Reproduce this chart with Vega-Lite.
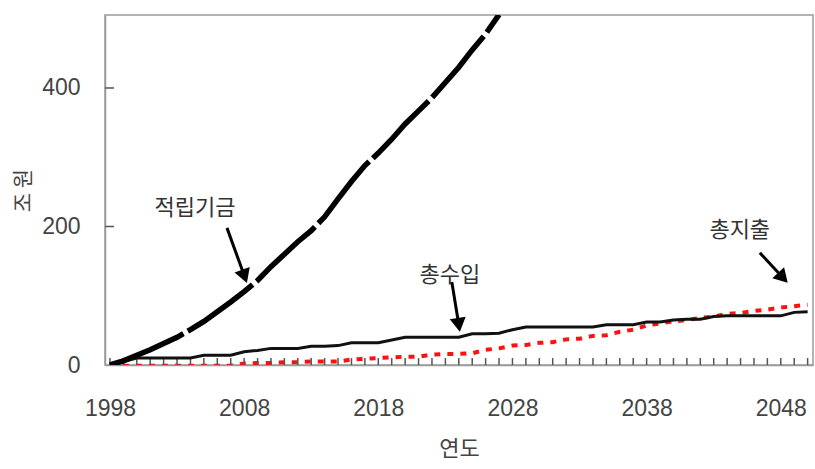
{
  "$schema": "https://vega.github.io/schema/vega-lite/v6.json",
  "autosize": "none",
  "width": 708,
  "height": 350,
  "padding": {"left": 105, "top": 15, "right": 2, "bottom": 104},
  "background": "white",
  "config": {
    "view": {"stroke": "#9a9a9a", "strokeWidth": 1.5},
    "font": "Liberation Sans, Noto Sans CJK KR",
    "axis": {"labelOverlap": false}
  },
  "datasets": {
    "series": [
      {"year": 1998, "s": "적립기금", "v": 0}, {"year": 1999, "s": "적립기금", "v": 6}, {"year": 2000, "s": "적립기금", "v": 14},
      {"year": 2001, "s": "적립기금", "v": 22}, {"year": 2002, "s": "적립기금", "v": 31}, {"year": 2003, "s": "적립기금", "v": 40},
      {"year": 2004, "s": "적립기금", "v": 51}, {"year": 2005, "s": "적립기금", "v": 63}, {"year": 2006, "s": "적립기금", "v": 77},
      {"year": 2007, "s": "적립기금", "v": 91}, {"year": 2008, "s": "적립기금", "v": 106}, {"year": 2009, "s": "적립기금", "v": 122},
      {"year": 2010, "s": "적립기금", "v": 142}, {"year": 2011, "s": "적립기금", "v": 160}, {"year": 2012, "s": "적립기금", "v": 178},
      {"year": 2013, "s": "적립기금", "v": 194}, {"year": 2014, "s": "적립기금", "v": 214}, {"year": 2015, "s": "적립기금", "v": 240},
      {"year": 2016, "s": "적립기금", "v": 265}, {"year": 2017, "s": "적립기금", "v": 288}, {"year": 2018, "s": "적립기금", "v": 306},
      {"year": 2019, "s": "적립기금", "v": 326}, {"year": 2020, "s": "적립기금", "v": 348}, {"year": 2021, "s": "적립기금", "v": 367},
      {"year": 2022, "s": "적립기금", "v": 386}, {"year": 2023, "s": "적립기금", "v": 408}, {"year": 2024, "s": "적립기금", "v": 430},
      {"year": 2025, "s": "적립기금", "v": 455}, {"year": 2026, "s": "적립기금", "v": 478}, {"year": 2027, "s": "적립기금", "v": 506},

      {"year": 1998, "s": "총수입", "v": 0}, {"year": 1999, "s": "총수입", "v": 5}, {"year": 2000, "s": "총수입", "v": 10},
      {"year": 2001, "s": "총수입", "v": 10}, {"year": 2002, "s": "총수입", "v": 10}, {"year": 2003, "s": "총수입", "v": 10},
      {"year": 2004, "s": "총수입", "v": 10}, {"year": 2005, "s": "총수입", "v": 14}, {"year": 2006, "s": "총수입", "v": 14},
      {"year": 2007, "s": "총수입", "v": 14}, {"year": 2008, "s": "총수입", "v": 19}, {"year": 2009, "s": "총수입", "v": 21},
      {"year": 2010, "s": "총수입", "v": 24}, {"year": 2011, "s": "총수입", "v": 24}, {"year": 2012, "s": "총수입", "v": 24},
      {"year": 2013, "s": "총수입", "v": 27}, {"year": 2014, "s": "총수입", "v": 27}, {"year": 2015, "s": "총수입", "v": 28},
      {"year": 2016, "s": "총수입", "v": 32}, {"year": 2017, "s": "총수입", "v": 32}, {"year": 2018, "s": "총수입", "v": 32},
      {"year": 2019, "s": "총수입", "v": 36}, {"year": 2020, "s": "총수입", "v": 40}, {"year": 2021, "s": "총수입", "v": 40},
      {"year": 2022, "s": "총수입", "v": 40}, {"year": 2023, "s": "총수입", "v": 40}, {"year": 2024, "s": "총수입", "v": 40},
      {"year": 2025, "s": "총수입", "v": 45}, {"year": 2026, "s": "총수입", "v": 45}, {"year": 2027, "s": "총수입", "v": 46},
      {"year": 2028, "s": "총수입", "v": 51}, {"year": 2029, "s": "총수입", "v": 55}, {"year": 2030, "s": "총수입", "v": 55},
      {"year": 2031, "s": "총수입", "v": 55}, {"year": 2032, "s": "총수입", "v": 55}, {"year": 2033, "s": "총수입", "v": 55},
      {"year": 2034, "s": "총수입", "v": 55}, {"year": 2035, "s": "총수입", "v": 58}, {"year": 2036, "s": "총수입", "v": 58},
      {"year": 2037, "s": "총수입", "v": 58}, {"year": 2038, "s": "총수입", "v": 62}, {"year": 2039, "s": "총수입", "v": 62},
      {"year": 2040, "s": "총수입", "v": 65}, {"year": 2041, "s": "총수입", "v": 66}, {"year": 2042, "s": "총수입", "v": 66},
      {"year": 2043, "s": "총수입", "v": 70}, {"year": 2044, "s": "총수입", "v": 71}, {"year": 2045, "s": "총수입", "v": 71},
      {"year": 2046, "s": "총수입", "v": 71}, {"year": 2047, "s": "총수입", "v": 71}, {"year": 2048, "s": "총수입", "v": 71},
      {"year": 2049, "s": "총수입", "v": 76}, {"year": 2050, "s": "총수입", "v": 77},

      {"year": 1998, "s": "총지출", "v": -1}, {"year": 1999, "s": "총지출", "v": -1}, {"year": 2000, "s": "총지출", "v": -1},
      {"year": 2001, "s": "총지출", "v": -1}, {"year": 2002, "s": "총지출", "v": -1}, {"year": 2003, "s": "총지출", "v": -1},
      {"year": 2004, "s": "총지출", "v": -1}, {"year": 2005, "s": "총지출", "v": -1}, {"year": 2006, "s": "총지출", "v": -1},
      {"year": 2007, "s": "총지출", "v": -1}, {"year": 2008, "s": "총지출", "v": 2}, {"year": 2009, "s": "총지출", "v": 3},
      {"year": 2010, "s": "총지출", "v": 3}, {"year": 2011, "s": "총지출", "v": 4}, {"year": 2012, "s": "총지출", "v": 4},
      {"year": 2013, "s": "총지출", "v": 5}, {"year": 2014, "s": "총지출", "v": 5}, {"year": 2015, "s": "총지출", "v": 5},
      {"year": 2016, "s": "총지출", "v": 8}, {"year": 2017, "s": "총지출", "v": 9}, {"year": 2018, "s": "총지출", "v": 10},
      {"year": 2019, "s": "총지출", "v": 11}, {"year": 2020, "s": "총지출", "v": 12}, {"year": 2021, "s": "총지출", "v": 12},
      {"year": 2022, "s": "총지출", "v": 15}, {"year": 2023, "s": "총지출", "v": 16}, {"year": 2024, "s": "총지출", "v": 16},
      {"year": 2025, "s": "총지출", "v": 17}, {"year": 2026, "s": "총지출", "v": 22}, {"year": 2027, "s": "총지출", "v": 24},
      {"year": 2028, "s": "총지출", "v": 28}, {"year": 2029, "s": "총지출", "v": 29}, {"year": 2030, "s": "총지출", "v": 32},
      {"year": 2031, "s": "총지출", "v": 33}, {"year": 2032, "s": "총지출", "v": 37}, {"year": 2033, "s": "총지출", "v": 38},
      {"year": 2034, "s": "총지출", "v": 42}, {"year": 2035, "s": "총지출", "v": 43}, {"year": 2036, "s": "총지출", "v": 48},
      {"year": 2037, "s": "총지출", "v": 51}, {"year": 2038, "s": "총지출", "v": 57}, {"year": 2039, "s": "총지출", "v": 60},
      {"year": 2040, "s": "총지출", "v": 63}, {"year": 2041, "s": "총지출", "v": 65}, {"year": 2042, "s": "총지출", "v": 68},
      {"year": 2043, "s": "총지출", "v": 70}, {"year": 2044, "s": "총지출", "v": 74}, {"year": 2045, "s": "총지출", "v": 75},
      {"year": 2046, "s": "총지출", "v": 78}, {"year": 2047, "s": "총지출", "v": 80}, {"year": 2048, "s": "총지출", "v": 83},
      {"year": 2049, "s": "총지출", "v": 85}, {"year": 2050, "s": "총지출", "v": 87}
    ],
    "labels": [
      {"s": "적립기금", "lx": 2004.33, "ly": 227, "ax": 2006.72, "ay": 198, "hx": 2008.03, "hy": 128},
      {"s": "총수입", "lx": 2023.33, "ly": 130, "ax": 2023.48, "ay": 120, "hx": 2024.0, "hy": 58},
      {"s": "총지출", "lx": 2044.94, "ly": 195, "ax": 2046.44, "ay": 162, "hx": 2048.16, "hy": 126}
    ],
    "yticks": [{"t": 200}, {"t": 400}]
  },
  "encoding": {
    "x": {
      "type": "quantitative",
      "scale": {"domain": [1997.63, 2050.4], "nice": false, "zero": false}
    },
    "y": {
      "type": "quantitative",
      "scale": {"domain": [0, 505.4], "nice": false}
    }
  },
  "layer": [
    {
      "data": {"name": "series"},
      "transform": [{"filter": "datum.s === '총지출'"}],
      "mark": {"type": "line", "color": "#ff1010", "strokeWidth": 4, "strokeDash": [6, 7], "clip": true},
      "encoding": {
        "x": {"field": "year", "type": "quantitative",
          "axis": {
            "orient": "bottom",
            "title": "연도",
            "values": [1998, 2008, 2018, 2028, 2038, 2048],
            "format": "d",
            "grid": false,
            "ticks": false,
            "domainColor": "#9a9a9a", "domainWidth": 1.5,
            "labelFont": "Liberation Sans", "labelFontSize": 23, "labelColor": "#444444",
            "labelPadding": 32, "labelFlush": false, "labelOverlap": false,
            "titleFont": "Noto Sans CJK KR", "titleFontSize": 22, "titleFontWeight": "normal", "titleColor": "#444444",
            "titlePadding": 18
          }
        },
        "y": {"field": "v", "type": "quantitative",
          "axis": {
            "orient": "left",
            "title": "조 원",
            "values": [0, 200, 400],
            "grid": false,
            "ticks": false,
            "domainColor": "#9a9a9a", "domainWidth": 1.5,
            "labelFont": "Liberation Sans", "labelFontSize": 23, "labelColor": "#444444",
            "labelPadding": 25,
            "titleFont": "Noto Sans CJK KR", "titleFontSize": 21, "titleFontWeight": "normal", "titleColor": "#444444",
            "titlePadding": 8
          }
        }
      }
    },
    {
      "data": {"name": "series"},
      "transform": [{"filter": "datum.s === '총수입'"}],
      "mark": {"type": "tick", "orient": "vertical", "color": "#555555", "thickness": 1.5, "size": 7, "opacity": 1},
      "encoding": {
        "x": {"field": "year", "type": "quantitative"},
        "y": {"datum": 5, "type": "quantitative"}
      }
    },
    {
      "data": {"name": "yticks"},
      "mark": {"type": "tick", "orient": "horizontal", "color": "#555555", "thickness": 1.5, "size": 9, "opacity": 1},
      "encoding": {
        "x": {"datum": 1997.97, "type": "quantitative"},
        "y": {"field": "t", "type": "quantitative"}
      }
    },
    {
      "data": {"name": "series"},
      "transform": [{"filter": "datum.s === '총수입'"}],
      "mark": {"type": "line", "color": "#111111", "strokeWidth": 3, "clip": true},
      "encoding": {
        "x": {"field": "year", "type": "quantitative"},
        "y": {"field": "v", "type": "quantitative"}
      }
    },
    {
      "data": {"name": "series"},
      "transform": [{"filter": "datum.s === '적립기금'"}],
      "mark": {"type": "line", "color": "#000000", "strokeWidth": 5.5, "strokeDash": [80, 5], "clip": true},
      "encoding": {
        "x": {"field": "year", "type": "quantitative"},
        "y": {"field": "v", "type": "quantitative"}
      }
    },
    {
      "data": {"name": "labels"},
      "mark": {"type": "text", "font": "Noto Sans CJK KR", "fontSize": 22, "color": "#333333", "align": "center", "baseline": "middle"},
      "encoding": {
        "x": {"field": "lx", "type": "quantitative"},
        "y": {"field": "ly", "type": "quantitative"},
        "text": {"field": "s"}
      }
    },
    {
      "data": {"name": "labels"},
      "mark": {"type": "rule", "color": "#000000", "strokeWidth": 3},
      "encoding": {
        "x": {"field": "ax", "type": "quantitative"},
        "y": {"field": "ay", "type": "quantitative"},
        "x2": {"field": "hx"},
        "y2": {"field": "hy"}
      }
    },
    {
      "data": {"name": "labels"},
      "transform": [{"filter": "datum.s === '적립기금'"}],
      "mark": {"type": "point", "shape": "triangle-down", "filled": true, "color": "#000000", "opacity": 1, "size": 260, "angle": 340},
      "encoding": {
        "x": {"field": "hx", "type": "quantitative"},
        "y": {"field": "hy", "type": "quantitative"}
      }
    },
    {
      "data": {"name": "labels"},
      "transform": [{"filter": "datum.s === '총수입'"}],
      "mark": {"type": "point", "shape": "triangle-down", "filled": true, "color": "#000000", "opacity": 1, "size": 260, "angle": 351},
      "encoding": {
        "x": {"field": "hx", "type": "quantitative"},
        "y": {"field": "hy", "type": "quantitative"}
      }
    },
    {
      "data": {"name": "labels"},
      "transform": [{"filter": "datum.s === '총지출'"}],
      "mark": {"type": "point", "shape": "triangle-down", "filled": true, "color": "#000000", "opacity": 1, "size": 260, "angle": 317},
      "encoding": {
        "x": {"field": "hx", "type": "quantitative"},
        "y": {"field": "hy", "type": "quantitative"}
      }
    }
  ]
}
